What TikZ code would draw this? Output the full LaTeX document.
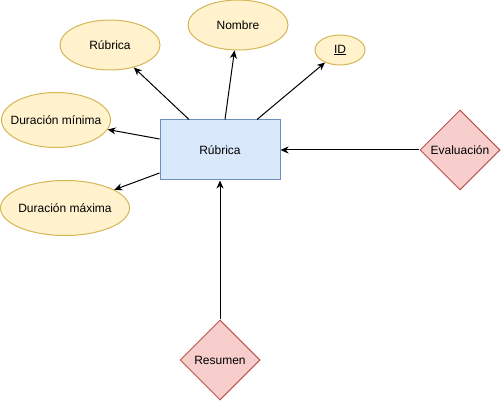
\documentclass[tikz,border=0pt]{standalone}
\usepackage{fontspec}
\setmainfont{Liberation Sans}
\usetikzlibrary{shapes.geometric,arrows.meta}
\definecolor{attrfill}{HTML}{FFF2CC}
\definecolor{attrdraw}{HTML}{D6B656}
\definecolor{entfill}{HTML}{DAE8FC}
\definecolor{entdraw}{HTML}{6C8EBF}
\definecolor{relfill}{HTML}{F8CECC}
\definecolor{reldraw}{HTML}{B85450}
\begin{document}
\begin{tikzpicture}[x=1pt,y=-1pt,
  every node/.style={font=\fontsize{12}{14}\selectfont, inner sep=0pt},
  attr/.style={ellipse, draw=attrdraw, fill=attrfill, line width=1pt},
  entity/.style={rectangle, draw=entdraw, fill=entfill, line width=1pt, minimum width=120pt, minimum height=60pt},
  rel/.style={diamond, draw=reldraw, fill=relfill, line width=1pt, minimum width=80pt, minimum height=80pt},
  conn/.style={draw=black, line width=1pt, -{Stealth[length=8pt,width=7pt,inset=2.5pt]}}]
\useasboundingbox (0,0) rectangle (501,401);
\node[entity] (r) at (220,150) {Rúbrica};
\node[attr, minimum width=100pt, minimum height=50pt, label=center:{Rúbrica}] (a1) at (110,45) {};
\node[attr, minimum width=100pt, minimum height=50pt, label=center:{Nombre}] (a2) at (238,25) {};
\node[attr, minimum width=50pt, minimum height=30pt, label=center:{\underline{ID}}] (a3) at (340,50) {};
\node[attr, minimum width=109pt, minimum height=55pt, label=center:{Duración mínima}] (a4) at (56,120) {};
\node[attr, minimum width=129pt, minimum height=55pt, label=center:{Duración máxima}] (a5) at (65,208) {};
\node[rel] (ev) at (460,150) {Evaluación};
\node[rel] (rs) at (220,360) {Resumen};
\draw[conn] ([xshift=-31pt]r.north) -- (a1);
\draw[conn] ([xshift=5pt]r.north) -- (a2);
\draw[conn] ([xshift=37pt]r.north) -- (a3);
\draw[conn] ([yshift=11pt]r.west) -- (a4);
\draw[conn] ([yshift=-23pt]r.west) -- (a5);
\draw[conn] (ev) -- (r);
\draw[conn] (rs) -- (r);
\end{tikzpicture}
\end{document}
